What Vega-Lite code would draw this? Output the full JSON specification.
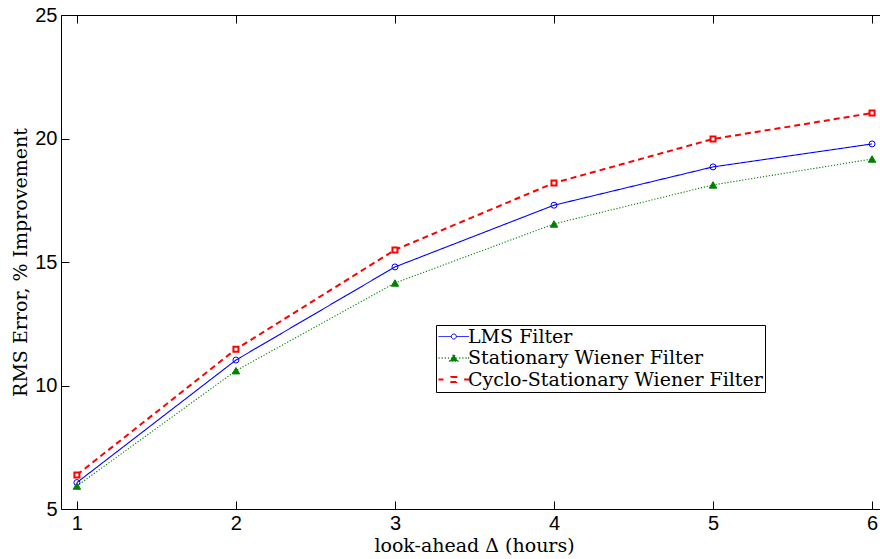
{
  "$schema": "https://vega.github.io/schema/vega-lite/v6.json",
  "width": 819,
  "height": 494,
  "autosize": {"type": "none"},
  "padding": {"left": 61, "top": 15, "right": 0, "bottom": 50},
  "background": "white",
  "config": {
    "view": {"stroke": null},
    "axis": {
      "domainColor": "black",
      "domainWidth": 1,
      "tickColor": "black",
      "tickWidth": 1,
      "tickSize": -8,
      "labelColor": "black",
      "labelFont": "Liberation Sans",
      "labelFontSize": 20,
      "labelPadding": 12,
      "grid": false,
      "titleFont": "DejaVu Serif",
      "titleFontSize": 19,
      "titleFontWeight": "normal",
      "titleColor": "black"
    },
    "legend": {
      "labelFont": "DejaVu Serif",
      "labelFontSize": 19,
      "labelColor": "black"
    }
  },
  "data": {
    "values": [
      {"lookahead": 1, "filter": "LMS Filter", "improvement": 6.07},
      {"lookahead": 2, "filter": "LMS Filter", "improvement": 11.03},
      {"lookahead": 3, "filter": "LMS Filter", "improvement": 14.8},
      {"lookahead": 4, "filter": "LMS Filter", "improvement": 17.3},
      {"lookahead": 5, "filter": "LMS Filter", "improvement": 18.85},
      {"lookahead": 6, "filter": "LMS Filter", "improvement": 19.78},
      {"lookahead": 1, "filter": "Stationary Wiener Filter", "improvement": 5.93},
      {"lookahead": 2, "filter": "Stationary Wiener Filter", "improvement": 10.6},
      {"lookahead": 3, "filter": "Stationary Wiener Filter", "improvement": 14.15},
      {"lookahead": 4, "filter": "Stationary Wiener Filter", "improvement": 16.54},
      {"lookahead": 5, "filter": "Stationary Wiener Filter", "improvement": 18.12},
      {"lookahead": 6, "filter": "Stationary Wiener Filter", "improvement": 19.17},
      {"lookahead": 1, "filter": "Cyclo-Stationary Wiener Filter", "improvement": 6.38},
      {"lookahead": 2, "filter": "Cyclo-Stationary Wiener Filter", "improvement": 11.47},
      {"lookahead": 3, "filter": "Cyclo-Stationary Wiener Filter", "improvement": 15.49},
      {"lookahead": 4, "filter": "Cyclo-Stationary Wiener Filter", "improvement": 18.2},
      {"lookahead": 5, "filter": "Cyclo-Stationary Wiener Filter", "improvement": 19.98},
      {"lookahead": 6, "filter": "Cyclo-Stationary Wiener Filter", "improvement": 21.03}
    ]
  },
  "resolve": {"axis": {"x": "independent"}},
  "layer": [
    {
      "mark": {"type": "line", "clip": false},
      "encoding": {
        "x": {
          "field": "lookahead", "type": "quantitative",
          "scale": {"domain": [0.9, 6.05], "nice": false, "zero": false},
          "axis": {"orient": "bottom", "values": [1, 2, 3, 4, 5, 6], "title": "look-ahead Δ (hours)", "titleX": 413, "titlePadding": 3}
        },
        "y": {
          "field": "improvement", "type": "quantitative",
          "scale": {"domain": [5, 25], "nice": false, "zero": false},
          "axis": {"values": [5, 10, 15, 20, 25], "title": "RMS Error, % Improvement", "titlePadding": 4}
        },
        "color": {
          "field": "filter", "type": "nominal",
          "scale": {
            "domain": ["LMS Filter", "Stationary Wiener Filter", "Cyclo-Stationary Wiener Filter"],
            "range": ["#0000ff", "#008000", "#ff0000"]
          },
          "legend": {
            "orient": "none",
            "legendX": 375,
            "legendY": 310,
            "title": null,
            "strokeColor": "black",
            "fillColor": "white",
            "padding": 2,
            "labelFont": "DejaVu Serif",
            "labelFontSize": 19,
            "labelColor": "black",
            "labelLimit": 0,
            "labelOffset": 11,
            "rowPadding": 1.5,
            "symbolSize": 324,
            "encode": {
              "symbols": {
                "update": {
                  "shape": {"signal": "datum.value === 'LMS Filter' ? 'M-1,0H0.42M0.98,0H2.4M0.42,0A0.28,0.28 0 1,1 0.98,0A0.28,0.28 0 1,1 0.42,0' : datum.value === 'Stationary Wiener Filter' ? 'M-1,0H-0.88M-0.65,0H-0.53M-0.3,0H-0.18M0.05,0H0.15M1.3,0H1.42M1.65,0H1.77M2,0H2.12M2.28,0H2.4M0.25,0.35L0.7,-0.42L1.15,0.35Z' : 'M-1,0H-0.45M1.85,0H2.4M0.42,-0.28H0.98V0.28H0.42Z'"},
                  "fill": {"signal": "datum.value === 'Stationary Wiener Filter' ? '#008000' : datum.value === 'LMS Filter' ? 'transparent' : 'white'"},
                  "stroke": {"signal": "datum.value === 'Stationary Wiener Filter' ? '#008000' : datum.value === 'LMS Filter' ? '#0000ff' : '#ff0000'"},
                  "strokeWidth": {"signal": "datum.value === 'Cyclo-Stationary Wiener Filter' ? 2 : datum.value === 'Stationary Wiener Filter' ? 1.3 : 1"},
                  "strokeDash": {"value": [1, 0]},
                  "opacity": {"value": 1}
                }
              }
            }
          }
        },
        "strokeDash": {
          "field": "filter", "type": "nominal",
          "scale": {
            "domain": ["LMS Filter", "Stationary Wiener Filter", "Cyclo-Stationary Wiener Filter"],
            "range": [[1, 0], [1.2, 1.8], [6, 4]]
          },
          "legend": null
        },
        "strokeWidth": {
          "condition": {"test": "datum.filter === 'Cyclo-Stationary Wiener Filter'", "value": 2},
          "value": 1.1
        }
      }
    },
    {
      "mark": {"type": "point", "clip": false, "opacity": 1},
      "encoding": {
        "x": {
          "field": "lookahead", "type": "quantitative",
          "axis": {"orient": "top", "values": [1, 2, 3, 4, 5, 6], "labels": false, "title": null}
        },
        "y": {
          "field": "improvement", "type": "quantitative"
        },
        "shape": {
          "condition": [
            {"test": "datum.filter === 'LMS Filter'", "value": "circle"},
            {"test": "datum.filter === 'Stationary Wiener Filter'", "value": "triangle-up"}
          ],
          "value": "square"
        },
        "stroke": {
          "condition": [
            {"test": "datum.filter === 'LMS Filter'", "value": "#0000ff"},
            {"test": "datum.filter === 'Stationary Wiener Filter'", "value": "#008000"}
          ],
          "value": "#ff0000"
        },
        "fill": {
          "condition": [
            {"test": "datum.filter === 'LMS Filter'", "value": "transparent"},
            {"test": "datum.filter === 'Stationary Wiener Filter'", "value": "#008000"}
          ],
          "value": "white"
        },
        "size": {
          "condition": [
            {"test": "datum.filter === 'LMS Filter'", "value": 36},
            {"test": "datum.filter === 'Stationary Wiener Filter'", "value": 55}
          ],
          "value": 25
        },
        "strokeWidth": {
          "condition": {"test": "datum.filter === 'Cyclo-Stationary Wiener Filter'", "value": 2},
          "value": 1
        }
      }
    }
  ]
}
